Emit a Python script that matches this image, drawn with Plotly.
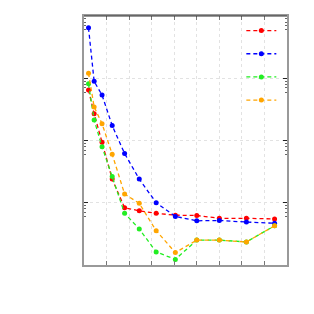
import plotly.graph_objects as go

x_vals = [0.2, 0.45, 0.8, 1.25, 1.8, 2.45, 3.2, 4.05, 5.0, 6.0, 7.2, 8.45]

# log10 of the values
red_log = [-0.19, -0.57, -1.03, -1.62, -2.08, -2.13, -2.17, -2.20, -2.205, -2.25, -2.25, -2.26]
blue_log = [0.81, -0.05, -0.27, -0.76, -1.21, -1.62, -2.00, -2.22, -2.29, -2.285, -2.31, -2.33]
green_log = [-0.09, -0.67, -1.10, -1.58, -2.17, -2.42, -2.79, -2.91, -2.60, -2.60, -2.63, -2.37]
orange_log = [0.08, -0.46, -0.73, -1.22, -1.86, -2.01, -2.45, -2.80, -2.60, -2.60, -2.63, -2.37]

series_names = [" ", " ", " ", " "]
series_colors = ["#ff0000", "#0000ff", "#22ee22", "#ffa500"]
series_logs = [red_log, blue_log, green_log, orange_log]

fig = go.Figure()
for name, color, logs in zip(series_names, series_colors, series_logs):
    fig.add_trace(go.Scatter(
        x=x_vals, y=[10 ** v for v in logs], name=name, mode="lines+markers",
        line=dict(color=color, width=1.3, dash="4px,3px"),
        marker=dict(color=color, size=5, symbol="circle"),
    ))

fig.update_layout(
    width=306, height=306,
    margin=dict(l=76, r=27, t=6, b=49),
    paper_bgcolor="white", plot_bgcolor="white",
    showlegend=True,
    legend=dict(x=0.775, y=1.008, xanchor="left", yanchor="top",
                bgcolor="rgba(255,255,255,0)", borderwidth=0,
                font=dict(size=15.5, color="white")),
    xaxis=dict(range=[0, 9], dtick=1, tick0=0, showticklabels=False,
               ticks="inside", ticklen=4, tickcolor="#777", tickwidth=1,
               showline=True, linecolor="#999", linewidth=1.5, mirror="ticks",
               showgrid=True, gridcolor="#e2e2e2", griddash="dot", gridwidth=1,
               zeroline=False),
    yaxis=dict(type="log", range=[-3, 1], dtick=1, showticklabels=False,
               ticks="inside", ticklen=4, tickcolor="#222", tickwidth=1,
               showline=True, linecolor="#999", linewidth=2, mirror="ticks",
               showgrid=True, gridcolor="#e2e2e2", griddash="dot", gridwidth=1,
               minor=dict(tickmode="array",
                          tickvals=[k * 10 ** d for d in range(-4, 1) for k in (6, 7, 8, 9)],
                          ticks="inside", ticklen=2, tickcolor="#666", showgrid=False),
               zeroline=False),
    shapes=[
        dict(type="rect", xref="paper", yref="paper", x0=0.62, x1=0.956, y0=0.617, y1=1,
             fillcolor="white", line=dict(width=0), layer="below"),
        dict(type="line", xref="paper", yref="paper", x0=0, x1=1, y0=1, y1=1,
             line=dict(color="#333", width=1)),
    ],
)

fig.write_html("out.html")
